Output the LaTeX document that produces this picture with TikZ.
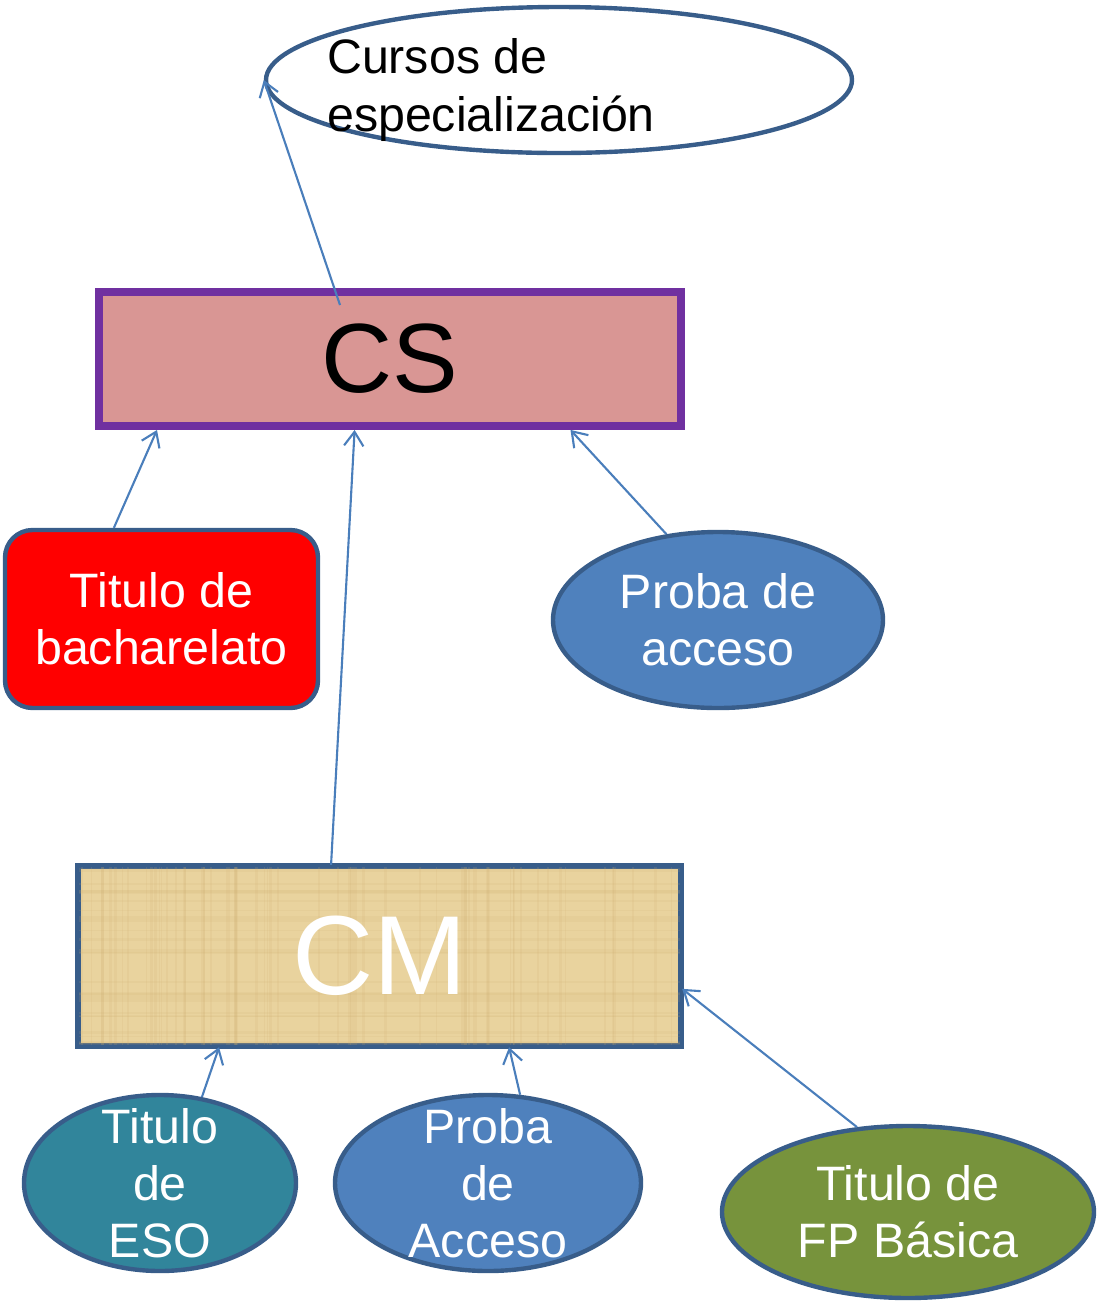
\documentclass[tikz,border=0pt]{standalone}
\usepackage{fontspec}
\setmainfont{Liberation Sans}
\usepackage{tikz}
\usetikzlibrary{shapes.geometric}
\usetikzlibrary{arrows.meta}
\usetikzlibrary{calc}

\definecolor{edgeblue}{RGB}{56,93,138}
\definecolor{arrowblue}{RGB}{74,126,187}
\definecolor{cspurple}{RGB}{112,48,160}
\definecolor{cspink}{RGB}{217,150,148}
\definecolor{fillblue}{RGB}{79,129,189}
\definecolor{fillteal}{RGB}{49,133,155}
\definecolor{fillolive}{RGB}{119,147,60}
\definecolor{papyrus}{RGB}{233,211,158}
\definecolor{papyrusdark}{RGB}{205,175,110}

\begin{document}
\begin{tikzpicture}[
    >={Straight Barb[length=8pt,width=11pt]},
    scale=1.00,
    conn/.style={->, draw=arrowblue, line width=1.2pt},
    bubble/.style={ellipse, draw=edgeblue, line width=2.5pt, inner xsep=0pt,
      inner ysep=-12pt, text=white, align=center,
      font=\fontsize{27.5}{32.5}\selectfont},
  ]

  \useasboundingbox (0,0) rectangle (21.98,-26.08);

  % Top ellipse with its text
  \node[ellipse, draw=edgeblue, line width=2.5pt, fill=white,
        minimum width=11.72cm, minimum height=2.92cm] (esp) at (11.18,-1.60) {};
  \node[align=left, inner sep=0pt, font=\fontsize{27.5}{32.5}\selectfont]
        (esptext) at (9.82,-1.80) {Cursos de\\especialización};

  % Main boxes
  \node[rectangle, draw=cspurple, fill=cspink, line width=4.5pt,
        minimum width=11.64cm, minimum height=2.68cm,
        font=\fontsize{56}{60}\selectfont] (cs) at (7.80,-7.18) {CS};
  \node[rectangle, draw=edgeblue, fill=papyrus, line width=2.5pt,
        minimum width=12.02cm, minimum height=3.56cm] (cm) at (7.59,-19.12) {};

  % Papyrus grain of the CM box
  \begin{scope}
    \clip (cm.south west) rectangle (cm.north east);
    \pgfmathsetseed{7}
    \foreach \i in {1,...,60} {
      \pgfmathsetmacro{\gx}{1.6+12.02*rnd}
      \draw[papyrusdark, opacity=0.14, line width=0.6pt+1.5pt*rnd]
        (\gx,-17.3) -- (\gx,-20.9);
    }
    \foreach \i in {1,...,25} {
      \pgfmathsetmacro{\gy}{-17.4-3.5*rnd}
      \draw[papyrusdark, opacity=0.12, line width=0.6pt+1.5pt*rnd]
        (1.5,\gy) -- (13.7,\gy);
    }
  \end{scope}
  \draw[edgeblue, line width=2.5pt] (cm.south west) rectangle (cm.north east);
  \node[text=white, font=\fontsize{64}{70}\selectfont] (cmtext) at (cm.center) {CM};

  % Entries to CS
  \node[rectangle, rounded corners=0.55cm, draw=edgeblue, fill=red,
        line width=2.5pt, minimum width=6.26cm, minimum height=3.56cm,
        text=white, align=center, font=\fontsize{27.5}{32.5}\selectfont]
        (bach) at (3.23,-12.38) {Titulo de\\bacharelato};
  \node[bubble, fill=fillblue, minimum width=6.60cm, minimum height=3.52cm]
        (proba) at (14.36,-12.40) {Proba de\\acceso};

  % Entries to CM
  \node[bubble, fill=fillteal, minimum width=5.44cm, minimum height=3.52cm]
        (eso) at (3.20,-23.66) {Titulo\\de\\ESO};
  \node[bubble, fill=fillblue, minimum width=6.12cm, minimum height=3.52cm]
        (pacc) at (9.76,-23.66) {Proba\\de\\Acceso};
  \node[bubble, fill=fillolive, minimum width=7.44cm, minimum height=3.44cm]
        (fp) at (18.16,-24.24) {Titulo de\\FP Básica};

  % Attachment points
  \coordinate (csin)   at (6.80,-6.10);
  \coordinate (csbach) at ($(cs.south west)!0.105!(cs.south east)$);
  \coordinate (cscm)   at ($(cs.south west)!0.44!(cs.south east)$);
  \coordinate (csprob) at ($(cs.south west)!0.806!(cs.south east)$);
  \coordinate (bachup) at ($(bach.north west)!0.35!(bach.north east)$);
  \coordinate (cmup)   at ($(cm.north west)!0.42!(cm.north east)$);
  \coordinate (cmeso)  at ($(cm.south west)!0.235!(cm.south east)$);
  \coordinate (cmpacc) at ($(cm.south west)!0.714!(cm.south east)$);
  \coordinate (cmfp)   at ($(cm.north east)!0.68!(cm.south east)$);

  % Arrows to the top ellipse and to CS
  \draw[conn] (csin) -- (esp.west);
  \draw[conn] (bachup) -- (csbach);
  \draw[conn] (cmup) -- (cscm);
  \draw[conn] (proba.121) -- (csprob);

  % Arrows to CM
  \draw[conn] (eso.64) -- (cmeso);
  \draw[conn] (pacc.70) -- (cmpacc);
  \draw[conn] (fp.121) -- (cmfp);

\end{tikzpicture}
\end{document}
